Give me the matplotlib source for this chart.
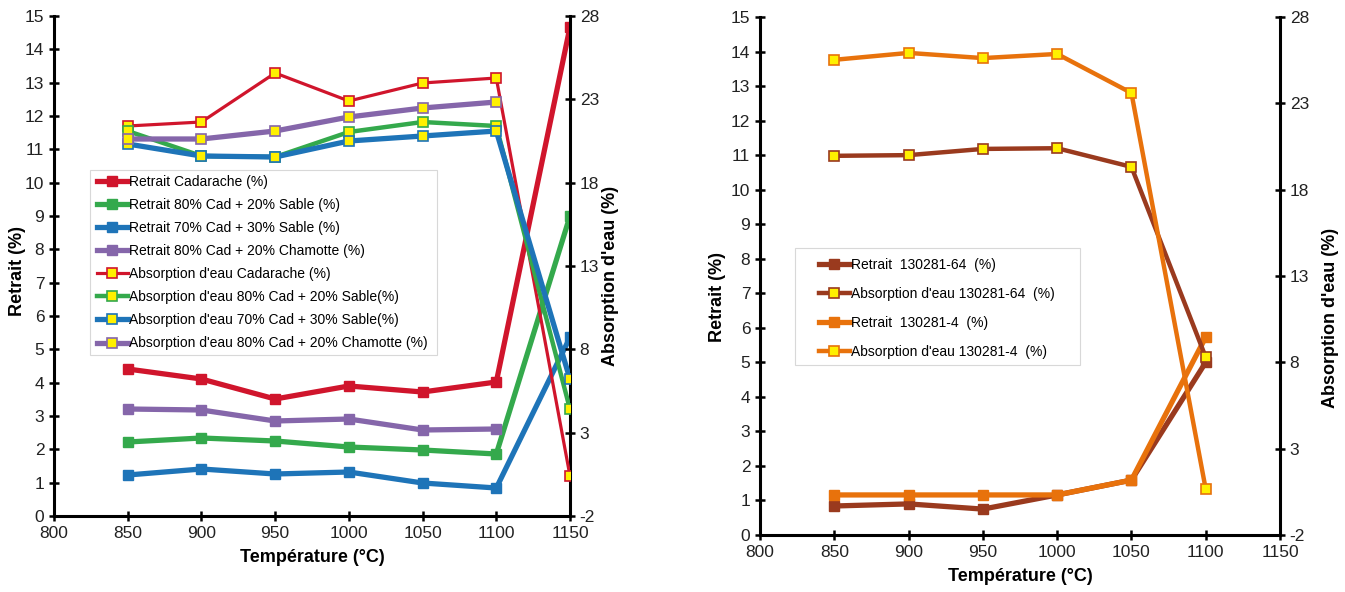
import matplotlib
matplotlib.use("Agg")
import matplotlib.pyplot as plt
from matplotlib.patches import Rectangle

plt.rcParams['font.family'] = ['Liberation Sans', 'DejaVu Sans']
plt.rcParams['axes.unicode_minus'] = False

# --- data ---
temp = [850, 900, 950, 1000, 1050, 1100, 1150]

# left chart : retrait (%)  (left axis)
ret_cad = [4.41, 4.11, 3.51, 3.90, 3.72, 4.02, 14.67]
ret_s20 = [2.22, 2.34, 2.25, 2.07, 1.98, 1.86, 9.0]
ret_s30 = [1.23, 1.41, 1.26, 1.32, 0.99, 0.84, 5.36]
ret_cha = [3.21, 3.18, 2.85, 2.91, 2.58, 2.61]

# left chart : absorption d'eau (%)  (right axis)
abs_cad = [21.4, 21.64, 24.58, 22.9, 23.98, 24.28, 0.4]
abs_s20 = [21.1, 19.6, 19.54, 21.04, 21.64, 21.4, 4.4]
abs_s30 = [20.32, 19.6, 19.54, 20.5, 20.8, 21.1, 6.2]
abs_cha = [20.62, 20.62, 21.1, 21.94, 22.48, 22.84]

# right chart
temp2 = [850, 900, 950, 1000, 1050, 1100]
ret_64 = [0.84, 0.90, 0.75, 1.16, 1.59, 5.0]
abs_64 = [19.96, 20.0, 20.36, 20.4, 19.32, 8.3]
ret_4 = [1.16, 1.16, 1.16, 1.16, 1.59, 5.73]
abs_4 = [25.52, 25.92, 25.62, 25.86, 23.6, 0.66]

red = '#D0152C'
green = '#34A94C'
blue = '#1E74B8'
purple = '#8566AA'
brown = '#9A3A1E'
orange = '#E8720C'
yellow = '#FFF000'


def style_axes(ax, ax2, lx, rx, ly, ry):
    for a in (ax, ax2):
        a.spines['top'].set_visible(False)
        for s in ('left', 'right', 'bottom'):
            a.spines[s].set_linewidth(2.2)
            a.spines[s].set_color('black')
        a.tick_params(direction='inout', length=7, width=1.8, labelsize=12.5,
                      colors='black', labelcolor='#222222')
    ax.set_xlim(800, 1150)
    ax.set_xticks(range(800, 1151, 50))
    ax.set_ylim(0, 15)
    ax.set_yticks(range(0, 16))
    ax2.set_ylim(-2, 28)
    ax2.set_yticks(range(-2, 29, 5))
    ax.set_xlabel('Température (°C)', fontsize=13, fontweight='bold', labelpad=6)
    ax.set_ylabel('Retrait (%)', fontsize=13, fontweight='bold')
    ax2.set_ylabel("Absorption d'eau (%)", fontsize=13, fontweight='bold')
    ax.yaxis.set_label_coords(lx, ly)
    ax2.yaxis.set_label_coords(rx, ry)
    ax.spines['right'].set_visible(False)
    ax2.spines['left'].set_visible(False)
    ax2.spines['bottom'].set_visible(False)


def ret_line(ax, x, y, c, label, lw=3.8):
    return ax.plot(x, y, color=c, lw=lw, marker='s', ms=7, mfc=c, mec=c,
                   label=label, zorder=3)[0]


def abs_line(ax, x, y, c, label, lw=2.3):
    return ax.plot(x, y, color=c, lw=lw, marker='s', ms=7, mfc=yellow, mec=c,
                   mew=1.2, label=label, zorder=3)[0]


def frame(a, x0, y0, x1, y1):
    # legend box in pixel coords of the 1345x592 figure
    a.add_patch(Rectangle((x0 / 1345, 1 - y1 / 592), (x1 - x0) / 1345,
                          (y1 - y0) / 592, transform=fig.transFigure,
                          facecolor='white', edgecolor='#d8d8d8', lw=0.8,
                          zorder=4, clip_on=False))


fig = plt.figure(figsize=(13.45, 5.92), dpi=100)

# left chart
ax = fig.add_axes([54 / 1345, 1 - 516 / 592, 516 / 1345, 500 / 592])
ax2 = ax.twinx()
style_axes(ax, ax2, -0.054, 1.062, 0.49, 0.48)
h = [
    ret_line(ax, temp, ret_cad, red, 'Retrait Cadarache (%)'),
    ret_line(ax, temp, ret_s20, green, 'Retrait 80% Cad + 20% Sable (%)'),
    ret_line(ax, temp, ret_s30, blue, 'Retrait 70% Cad + 30% Sable (%)'),
    ret_line(ax, temp2, ret_cha, purple, 'Retrait 80% Cad + 20% Chamotte (%)'),
    abs_line(ax2, temp, abs_cad, red, "Absorption d'eau Cadarache (%)"),
    abs_line(ax2, temp, abs_s20, green, "Absorption d'eau 80% Cad + 20% Sable(%)", lw=3.2),
    abs_line(ax2, temp, abs_s30, blue, "Absorption d'eau 70% Cad + 30% Sable(%)", lw=3.8),
    abs_line(ax2, temp2, abs_cha, purple, "Absorption d'eau 80% Cad + 20% Chamotte (%)", lw=3.8),
]
frame(ax2, 90, 170, 437, 355)
leg = ax2.legend(handles=h, loc='upper left', bbox_to_anchor=(93 / 1345, 1 - 171 / 592),
                 bbox_transform=fig.transFigure, fontsize=10, frameon=False,
                 handlelength=2.2, handletextpad=0.1, labelspacing=0.65,
                 borderpad=0.3, borderaxespad=0)
leg.set_zorder(5)

# right chart
bx = fig.add_axes([760 / 1345, 1 - 535 / 592, 520 / 1345, 518 / 592])
bx2 = bx.twinx()
style_axes(bx, bx2, -0.065, 1.081, 0.46, 0.42)
h2 = [
    ret_line(bx, temp2, ret_64, brown, 'Retrait  130281-64  (%)'),
    abs_line(bx2, temp2, abs_64, brown, "Absorption d'eau 130281-64  (%)", lw=3.2),
    ret_line(bx, temp2, ret_4, orange, 'Retrait  130281-4  (%)'),
    abs_line(bx2, temp2, abs_4, orange, "Absorption d'eau 130281-4  (%)", lw=3.2),
]
frame(bx2, 795, 248, 1080, 365)
leg2 = bx2.legend(handles=h2, loc='upper left', bbox_to_anchor=(815 / 1345, 1 - 254 / 592),
                  bbox_transform=fig.transFigure, fontsize=10, frameon=False,
                  handlelength=2.2, handletextpad=0.1, labelspacing=1.07,
                  borderpad=0.3, borderaxespad=0)
leg2.set_zorder(5)

fig.savefig('out.png', dpi=100)
